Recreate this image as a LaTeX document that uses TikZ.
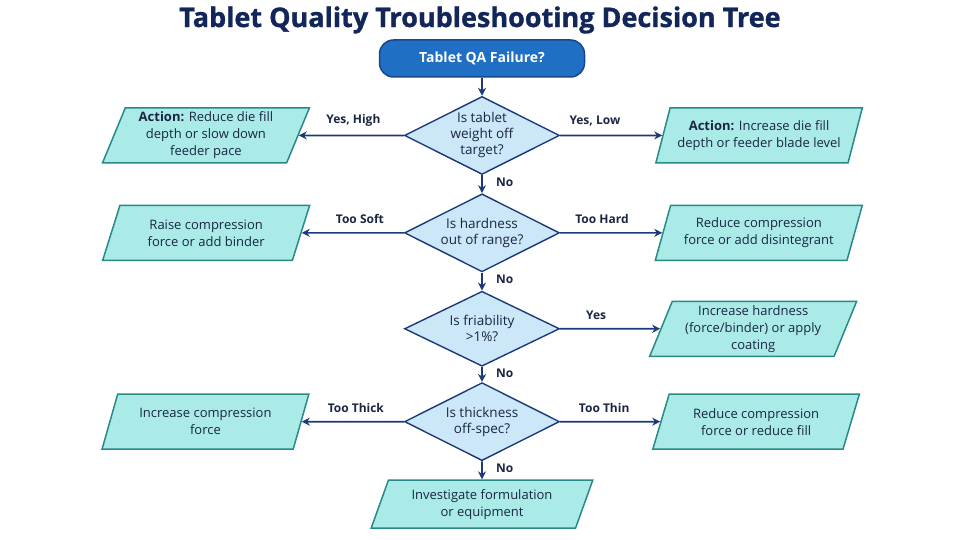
\documentclass[tikz,border=0pt]{standalone}
\usepackage{fontspec}
\setmainfont{Open Sans}
\newfontfamily\titlefont{Open Sans}[FakeBold=1.2]
\usepackage{xcolor}
\usetikzlibrary{shapes.geometric, arrows, arrows.meta, positioning}
\definecolor{titlenavy}{RGB}{19, 38, 90}
\definecolor{startblue}{RGB}{31, 111, 196}
\definecolor{startedge}{RGB}{22, 70, 140}
\definecolor{qfill}{RGB}{204, 231, 248}
\definecolor{qedge}{RGB}{27, 58, 120}
\definecolor{actfill}{RGB}{170, 235, 232}
\definecolor{actedge}{RGB}{40, 138, 136}
\definecolor{textdark}{RGB}{26, 38, 66}
\tikzset{
  startnode/.style={rectangle, rounded corners=14pt, minimum width=205pt,
    minimum height=37pt, draw=startedge, line width=1.5pt, fill=startblue,
    text=white, font=\fontsize{14}{17}\selectfont\bfseries},
  question/.style={diamond, aspect=2, inner sep=-3pt, minimum width=155pt,
    minimum height=78pt, draw=qedge, line width=1.4pt, fill=qfill,
    text=textdark, align=center, font=\fontsize{13.5}{16}\selectfont},
  action/.style={trapezium, trapezium left angle=70, trapezium right angle=110,
    trapezium stretches=true, minimum width=207pt, minimum height=55pt,
    inner xsep=2pt, draw=actedge, line width=1.5pt, fill=actfill,
    text=textdark, align=center, font=\fontsize{13}{17}\selectfont},
  arrow/.style={->, >={Stealth[length=8pt, width=8pt]}, line width=1.7pt,
    color=qedge},
  branch/.style={font=\fontsize{12}{14}\selectfont\bfseries, text=textdark}
}

\begin{document}
\begin{tikzpicture}[x=1pt, y=-1pt]
\useasboundingbox (0,0) rectangle (960,540);
\node (title) [font=\fontsize{27}{30}\titlefont\bfseries, text=titlenavy]
  at (480,20) {Tablet Quality Troubleshooting Decision Tree};
\node (start) [startnode] at (482,58.5) {Tablet QA Failure?};

\node (weight) [question, below=18pt of start]  {Is tablet\\weight off\\target?};
\node (hard)   [question, below=18pt of weight] {Is hardness\\out of range?};
\node (friab)  [question, below=18pt of hard, minimum height=75pt] {Is friability\\>1\%?};
\node (thick)  [question, below=15pt of friab]  {Is thickness\\off-spec?};
\node (invest) [action, below=18pt of thick, minimum width=222pt, minimum height=48pt]
  {Investigate formulation\\or equipment};

\node (wlow)  [action, left=105pt of weight]
  {\textbf{Action:} Reduce die fill\\depth or slow down\\feeder pace};
\node (whigh) [action, right=102pt of weight]
  {\textbf{Action:} Increase die fill\\depth or feeder blade level};
\node (soft)  [action, left=102pt of hard]  {Raise compression\\force or add binder};
\node (harder)[action, right=102pt of hard] {Reduce compression\\force or add disintegrant};
\node (fria)  [action, right=100pt of friab]
  {Increase hardness\\(force/binder) or apply\\coating};
\node (thk)   [action, left=102pt of thick]  {Increase compression\\force};
\node (thn)   [action, right=100pt of thick] {Reduce compression\\force or reduce fill};

\draw[arrow] (start)  -- (weight);
\draw[arrow] (weight) -- node[branch, pos=0.4, right=10pt]{No} (hard);
\draw[arrow] (hard)   -- node[branch, pos=0.4, right=10pt]{No} (friab);
\draw[arrow] (friab)  -- node[branch, pos=0.4, right=10pt]{No} (thick);
\draw[arrow] (thick)  -- node[branch, pos=0.4, right=10pt]{No} (invest);

\draw[arrow] (weight) -- node[branch, pos=0.48, above=5pt]{Yes, High} (wlow);
\draw[arrow] (weight) -- node[branch, pos=0.34, above=5pt]{Yes, Low} (whigh);
\draw[arrow] (hard)   -- node[branch, pos=0.43, above=5pt]{Too Soft} (soft);
\draw[arrow] (hard)   -- node[branch, pos=0.41, above=5pt]{Too Hard} (harder);
\draw[arrow] (friab)  -- node[branch, pos=0.36, above=5pt]{Yes} (fria);
\draw[arrow] (thick)  -- node[branch, pos=0.47, above=5pt]{Too Thick} (thk);
\draw[arrow] (thick)  -- node[branch, pos=0.44, above=5pt]{Too Thin} (thn);
\end{tikzpicture}
\end{document}
